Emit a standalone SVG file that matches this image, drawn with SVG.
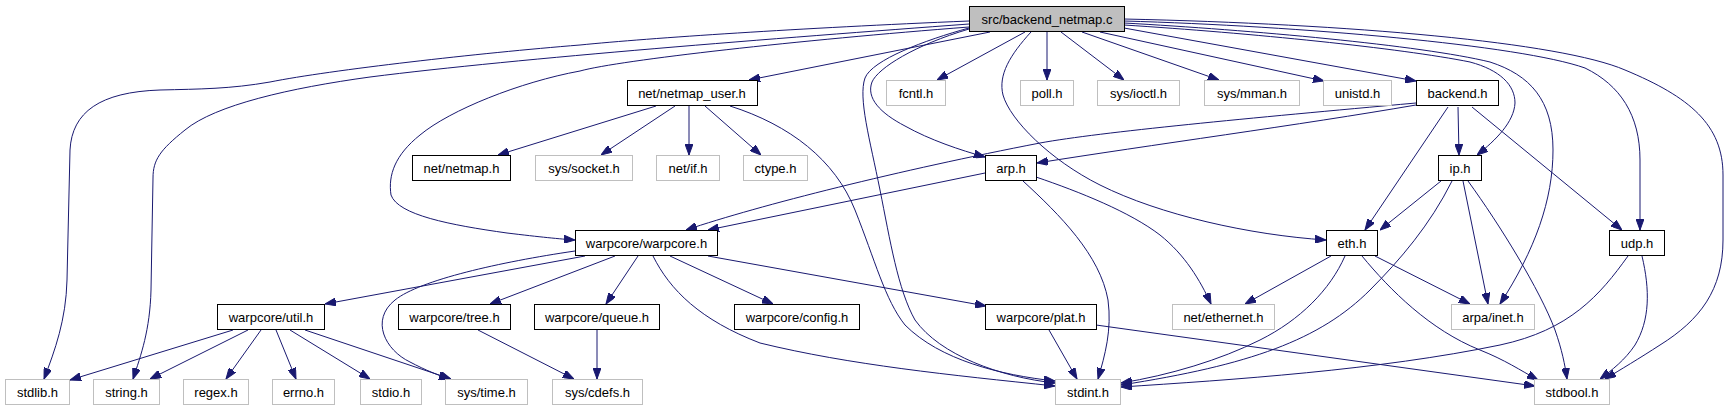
<svg xmlns="http://www.w3.org/2000/svg" width="1729" height="411" viewBox="0 0 1729 411">
<style>
.e{fill:none;stroke:#191970;stroke-width:1;marker-end:url(#arr)}
.n rect{fill:#fff;stroke:#000;stroke-width:1}
.g rect{fill:#fff;stroke:#bfbfbf;stroke-width:1}
.r rect{fill:#bfbfbf;stroke:#000;stroke-width:1}
text{font-family:"Liberation Sans",Arial,Helvetica,sans-serif;font-size:13px;fill:#000;text-anchor:middle}
</style>
<defs>
<marker id="arr" viewBox="0 0 11 8" refX="11" refY="4" markerWidth="11" markerHeight="8" markerUnits="userSpaceOnUse" orient="auto">
<polygon points="0,0 11,4 0,8" fill="#191970" stroke="#191970" stroke-width="1"/>
</marker>
</defs>
<rect width="1729" height="411" fill="#fff"/>
<g id="edges">
<path class="e" d="M969,21 C800,28 650,38 580,45 C480,53 330,70 270,82 C230,89 200,89 160,90 C100,92 72,112 70,150 L67,280 C66,320 55,350 44,379"/>
<path class="e" d="M969,24 C780,38 520,58 370,77 C290,88 215,105 185,130 C160,150 153,160 153,178 L151,290 C150,330 141,355 133,379"/>
<path class="e" d="M969,27 C800,40 620,60 580,71 C520,82 450,110 420,135 C395,155 388,175 391,195 C398,215 450,225 507,233 C540,237 560,239 575,240"/>
<path class="e" d="M990,32 L749,80"/>
<path class="e" d="M969,28 C925,40 872,60 865,78 C858,98 870,140 880,190 C890,240 898,290 915,320 C940,355 1000,377 1055,383"/>
<path class="e" d="M969,29 C915,45 878,68 872,82 C866,98 880,113 905,126 C930,140 960,150 985,157"/>
<path class="e" d="M1025,32 L937,80"/>
<path class="e" d="M1047,32 L1047,80"/>
<path class="e" d="M1061,32 L1124,80"/>
<path class="e" d="M1082,32 L1219,80"/>
<path class="e" d="M1100,32 L1324,81"/>
<path class="e" d="M1124,28 L1416,81"/>
<path class="e" d="M1031,32 C1010,55 998,75 1003,95 C1010,120 1050,160 1100,185 C1160,215 1250,235 1326,240"/>
<path class="e" d="M1124,25 C1250,33 1400,48 1470,62 C1500,70 1515,85 1515,103 C1514,122 1496,140 1477,155"/>
<path class="e" d="M1124,23 C1250,30 1420,45 1490,62 C1530,75 1553,100 1553,150 C1553,200 1535,250 1500,304"/>
<path class="e" d="M1124,21 C1300,26 1520,45 1585,68 C1620,85 1640,115 1640,160 L1640,230"/>
<path class="e" d="M1124,19 C1350,24 1560,42 1625,70 C1690,97 1723,125 1723,175 L1723,240 C1723,290 1700,320 1660,345 C1640,358 1620,370 1605,379"/>
<path class="e" d="M656,106 L498,155"/>
<path class="e" d="M675,106 L601,155"/>
<path class="e" d="M689,106 L689,155"/>
<path class="e" d="M705,106 L761,155"/>
<path class="e" d="M730,106 C790,125 835,160 855,210 C875,260 885,300 905,325 C940,360 1000,375 1055,381"/>
<path class="e" d="M1416,105 C1300,125 1150,145 1037,163"/>
<path class="e" d="M1416,103 C1250,118 1100,132 1040,143 C900,170 760,205 686,230"/>
<path class="e" d="M1448,107 L1365,230"/>
<path class="e" d="M1458,107 L1459,155"/>
<path class="e" d="M1472,107 L1622,230"/>
<path class="e" d="M985,173 L708,230"/>
<path class="e" d="M1036,177 C1080,192 1130,212 1160,235 C1185,255 1200,280 1211,304"/>
<path class="e" d="M1023,181 C1060,215 1100,255 1108,300 C1112,330 1105,355 1098,379"/>
<path class="e" d="M1441,181 L1380,230"/>
<path class="e" d="M1452,181 C1430,225 1400,260 1370,290 C1320,340 1250,365 1121,385"/>
<path class="e" d="M1463,181 L1488,304"/>
<path class="e" d="M1468,181 C1500,225 1540,290 1555,330 C1562,350 1565,365 1567,379"/>
<path class="e" d="M1331,256 L1245,304"/>
<path class="e" d="M1345,256 C1330,290 1300,320 1260,340 C1220,360 1170,375 1121,383"/>
<path class="e" d="M1375,256 L1470,304"/>
<path class="e" d="M1362,256 C1390,290 1430,330 1480,350 C1505,360 1520,370 1538,380"/>
<path class="e" d="M1628,256 C1600,295 1570,330 1500,345 C1380,370 1230,380 1121,387"/>
<path class="e" d="M1642,256 C1650,290 1650,320 1635,345 C1625,360 1612,370 1600,379"/>
<path class="e" d="M585,256 L325,304"/>
<path class="e" d="M575,251 C500,262 420,280 395,300 C370,320 385,350 410,362 C425,370 440,376 450,379"/>
<path class="e" d="M615,256 L490,304"/>
<path class="e" d="M638,256 L606,304"/>
<path class="e" d="M653,256 C670,290 700,320 760,343 C850,365 950,375 1055,386"/>
<path class="e" d="M670,256 L773,304"/>
<path class="e" d="M708,256 L986,306"/>
<path class="e" d="M233,330 L70,380"/>
<path class="e" d="M248,330 L150,379"/>
<path class="e" d="M261,330 L226,379"/>
<path class="e" d="M276,330 L296,379"/>
<path class="e" d="M290,330 L370,379"/>
<path class="e" d="M305,330 L451,379"/>
<path class="e" d="M478,330 L574,379"/>
<path class="e" d="M597,330 L597,379"/>
<path class="e" d="M1049,330 L1077,379"/>
<path class="e" d="M1096,325 L1535,386"/>
</g>
<g id="node-root" class="r"><rect x="969.5" y="6.5" width="155" height="25"/><text x="1047" y="23.5">src/backend_netmap.c</text></g>
<g id="node-netmap_user" class="n"><rect x="627.5" y="80.5" width="130" height="25"/><text x="692" y="97.5">net/netmap_user.h</text></g>
<g id="node-fcntl" class="g"><rect x="886.5" y="80.5" width="59" height="25"/><text x="916" y="97.5">fcntl.h</text></g>
<g id="node-poll" class="g"><rect x="1020.5" y="80.5" width="53" height="25"/><text x="1047" y="97.5">poll.h</text></g>
<g id="node-ioctl" class="g"><rect x="1097.5" y="80.5" width="82" height="25"/><text x="1138.5" y="97.5">sys/ioctl.h</text></g>
<g id="node-mman" class="g"><rect x="1204.5" y="80.5" width="95" height="25"/><text x="1252" y="97.5">sys/mman.h</text></g>
<g id="node-unistd" class="g"><rect x="1323.5" y="80.5" width="68" height="25"/><text x="1357.5" y="97.5">unistd.h</text></g>
<g id="node-backend" class="n"><rect x="1416.5" y="80.5" width="82" height="25"/><text x="1457.5" y="97.5">backend.h</text></g>
<g id="node-netmap" class="n"><rect x="412.5" y="155.5" width="98" height="25"/><text x="461.5" y="172.5">net/netmap.h</text></g>
<g id="node-socket" class="g"><rect x="535.5" y="155.5" width="97" height="25"/><text x="584" y="172.5">sys/socket.h</text></g>
<g id="node-netif" class="g"><rect x="656.5" y="155.5" width="63" height="25"/><text x="688" y="172.5">net/if.h</text></g>
<g id="node-ctype" class="g"><rect x="743.5" y="155.5" width="64" height="25"/><text x="775.5" y="172.5">ctype.h</text></g>
<g id="node-arp" class="n"><rect x="985.5" y="155.5" width="51" height="25"/><text x="1011" y="172.5">arp.h</text></g>
<g id="node-ip" class="n"><rect x="1438.5" y="155.5" width="43" height="25"/><text x="1460" y="172.5">ip.h</text></g>
<g id="node-warpcore" class="n"><rect x="575.5" y="230.5" width="142" height="25"/><text x="646.5" y="247.5">warpcore/warpcore.h</text></g>
<g id="node-eth" class="n"><rect x="1326.5" y="230.5" width="51" height="25"/><text x="1352" y="247.5">eth.h</text></g>
<g id="node-udp" class="n"><rect x="1609.5" y="230.5" width="55" height="25"/><text x="1637" y="247.5">udp.h</text></g>
<g id="node-util" class="n"><rect x="217.5" y="304.5" width="107" height="25"/><text x="271" y="321.5">warpcore/util.h</text></g>
<g id="node-tree" class="n"><rect x="398.5" y="304.5" width="112" height="25"/><text x="454.5" y="321.5">warpcore/tree.h</text></g>
<g id="node-queue" class="n"><rect x="534.5" y="304.5" width="125" height="25"/><text x="597" y="321.5">warpcore/queue.h</text></g>
<g id="node-config" class="n"><rect x="734.5" y="304.5" width="125" height="25"/><text x="797" y="321.5">warpcore/config.h</text></g>
<g id="node-plat" class="n"><rect x="985.5" y="304.5" width="111" height="25"/><text x="1041" y="321.5">warpcore/plat.h</text></g>
<g id="node-ethernet" class="g"><rect x="1172.5" y="304.5" width="102" height="25"/><text x="1223.5" y="321.5">net/ethernet.h</text></g>
<g id="node-inet" class="g"><rect x="1451.5" y="304.5" width="83" height="25"/><text x="1493" y="321.5">arpa/inet.h</text></g>
<g id="node-stdlib" class="g"><rect x="5.5" y="379.5" width="64" height="25"/><text x="37.5" y="396.5">stdlib.h</text></g>
<g id="node-string" class="g"><rect x="93.5" y="379.5" width="66" height="25"/><text x="126.5" y="396.5">string.h</text></g>
<g id="node-regex" class="g"><rect x="183.5" y="379.5" width="65" height="25"/><text x="216" y="396.5">regex.h</text></g>
<g id="node-errno" class="g"><rect x="272.5" y="379.5" width="62" height="25"/><text x="303.5" y="396.5">errno.h</text></g>
<g id="node-stdio" class="g"><rect x="360.5" y="379.5" width="61" height="25"/><text x="391" y="396.5">stdio.h</text></g>
<g id="node-time" class="g"><rect x="445.5" y="379.5" width="82" height="25"/><text x="486.5" y="396.5">sys/time.h</text></g>
<g id="node-cdefs" class="g"><rect x="552.5" y="379.5" width="90" height="25"/><text x="597.5" y="396.5">sys/cdefs.h</text></g>
<g id="node-stdint" class="g"><rect x="1055.5" y="379.5" width="65" height="25"/><text x="1088" y="396.5">stdint.h</text></g>
<g id="node-stdbool" class="g"><rect x="1534.5" y="379.5" width="75" height="25"/><text x="1572" y="396.5">stdbool.h</text></g>
</svg>
